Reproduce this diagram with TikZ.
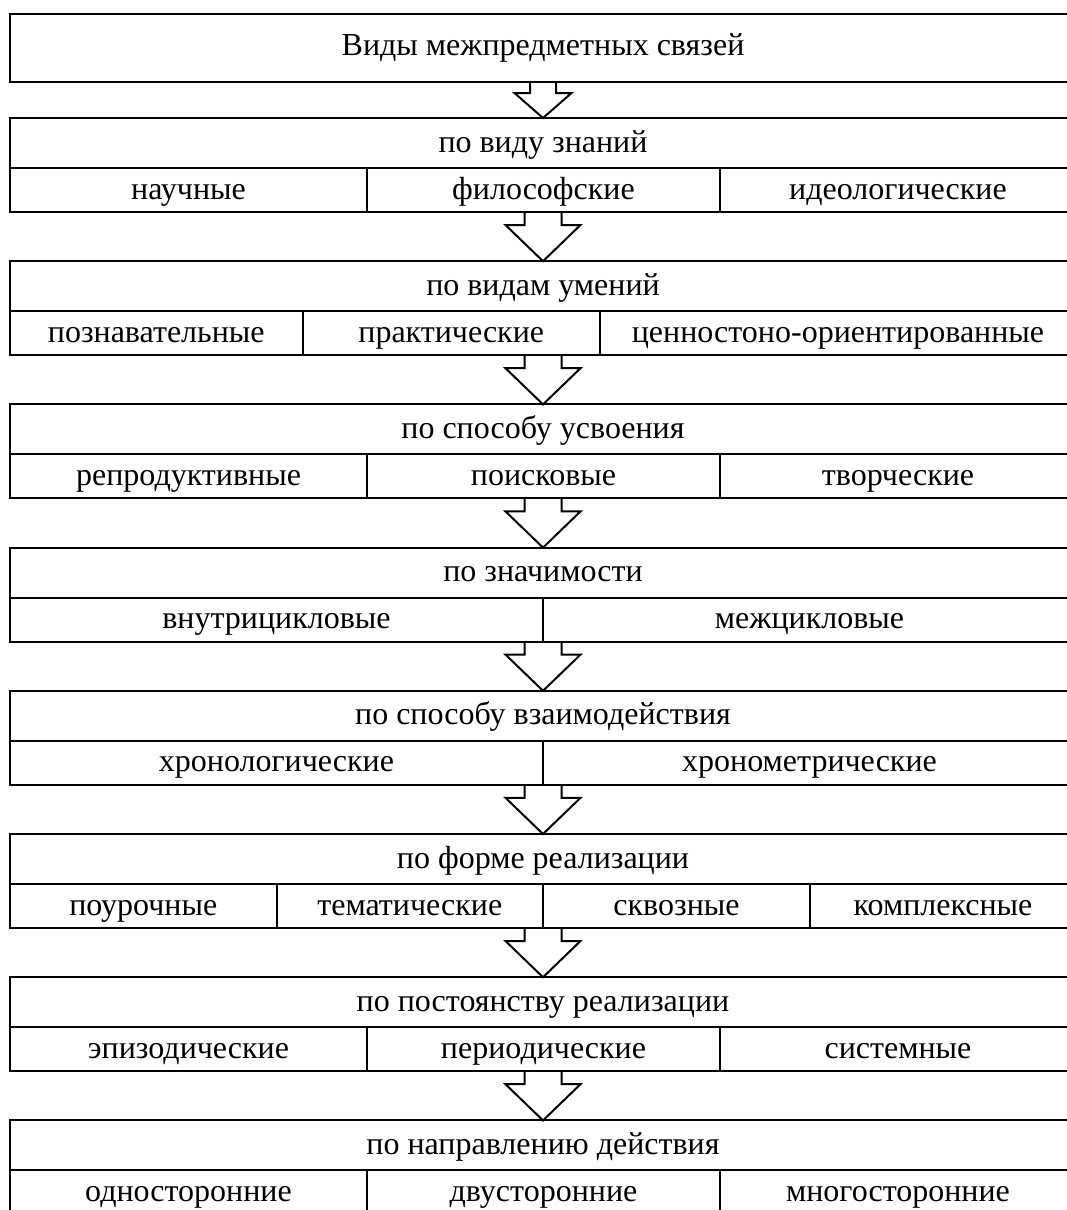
\documentclass[tikz,border=0pt]{standalone}
\usepackage{fontspec}
\setmainfont{Liberation Serif}
\usetikzlibrary{positioning, fit}

% block arrow from the bottom of one group down to the top of the next
\newcommand{\blockarr}[5]{%
  \draw[barrow] ([xshift=-#3pt]#1.south) |- ([xshift=-#4pt, yshift=-#5pt]#1.south)
    -- (#2.north) -- ([xshift=#4pt, yshift=-#5pt]#1.south) -| ([xshift=#3pt]#1.south);}

\begin{document}
\begin{tikzpicture}[x=1pt, y=1pt,
  font=\fontsize{32}{36}\selectfont,
  every node/.style={outer sep=0pt, inner sep=0pt, text height=23pt, text depth=5pt},
  head/.style={draw=black, line width=2.6pt, rectangle, minimum width=1066pt, minimum height=68pt,
    text height=21pt, text depth=7pt},
  ttl/.style={draw=black, line width=2pt, rectangle, minimum width=1066pt, minimum height=50pt},
  cell/.style={draw=black, line width=2pt, rectangle, minimum height=44pt},
  grp/.style={inner sep=0pt, text height=, text depth=},
  barrow/.style={draw=black, line width=2pt, line join=miter}]
\useasboundingbox (0,0) rectangle (1067,-1210);

% --- top box
\node[head] (root) at (543,-48) {Виды межпредметных связей};

% --- by kind of knowledge
\node[ttl, below=36pt of root] (znan) {по виду знаний};
\node[cell, minimum width=357pt, below right=0pt of znan.south west] (znan1) {научные};
\node[cell, minimum width=353pt, right=0pt of znan1] (znan2) {философские};
\node[cell, minimum width=356pt, right=0pt of znan2] (znan3) {идеологические};
\node[grp, fit=(znan)(znan1)(znan3)] (gznan) {};

% --- by kind of skills
\node[ttl, below=49.2pt of gznan] (umen) {по видам умений};
\node[cell, minimum width=292.5pt, below right=0pt of umen.south west] (umen1) {познавательные};
\node[cell, minimum width=297.5pt, right=0pt of umen1] (umen2) {практические};
\node[cell, minimum width=476pt, right=0pt of umen2] (umen3) {ценностоно-ориентированные};
\node[grp, fit=(umen)(umen1)(umen3)] (gumen) {};

% --- by way of learning
\node[ttl, below=49.2pt of gumen] (usv) {по способу усвоения};
\node[cell, minimum width=357pt, below right=0pt of usv.south west] (usv1) {репродуктивные};
\node[cell, minimum width=353pt, right=0pt of usv1] (usv2) {поисковые};
\node[cell, minimum width=356pt, right=0pt of usv2] (usv3) {творческие};
\node[grp, fit=(usv)(usv1)(usv3)] (gusv) {};

% --- by significance
\node[ttl, below=49.2pt of gusv] (znach) {по значимости};
\node[cell, minimum width=533pt, below right=0pt of znach.south west] (znach1) {внутрицикловые};
\node[cell, minimum width=533pt, right=0pt of znach1] (znach2) {межцикловые};
\node[grp, fit=(znach)(znach1)(znach2)] (gznach) {};

% --- by way of interaction
\node[ttl, below=49.2pt of gznach] (vzaim) {по способу взаимодействия};
\node[cell, minimum width=533pt, below right=0pt of vzaim.south west] (vzaim1) {хронологические};
\node[cell, minimum width=533pt, right=0pt of vzaim1] (vzaim2) {хронометрические};
\node[grp, fit=(vzaim)(vzaim1)(vzaim2)] (gvzaim) {};

% --- by form of realisation
\node[ttl, below=49.2pt of gvzaim] (forma) {по форме реализации};
\node[cell, minimum width=266.5pt, below right=0pt of forma.south west] (forma1) {поурочные};
\node[cell, minimum width=266.5pt, right=0pt of forma1] (forma2) {тематические};
\node[cell, minimum width=267pt, right=0pt of forma2] (forma3) {сквозные};
\node[cell, minimum width=266pt, right=0pt of forma3] (forma4) {комплексные};
\node[grp, fit=(forma)(forma1)(forma4)] (gforma) {};

% --- by constancy of realisation
\node[ttl, below=49.2pt of gforma] (post) {по постоянству реализации};
\node[cell, minimum width=357pt, below right=0pt of post.south west] (post1) {эпизодические};
\node[cell, minimum width=353pt, right=0pt of post1] (post2) {периодические};
\node[cell, minimum width=356pt, right=0pt of post2] (post3) {системные};
\node[grp, fit=(post)(post1)(post3)] (gpost) {};

% --- by direction of action
\node[ttl, below=49.2pt of gpost] (napr) {по направлению действия};
\node[cell, minimum width=357pt, below right=0pt of napr.south west] (napr1) {односторонние};
\node[cell, minimum width=353pt, right=0pt of napr1] (napr2) {двусторонние};
\node[cell, minimum width=356pt, right=0pt of napr2] (napr3) {многосторонние};

% --- arrows between the groups
\blockarr{root}{znan}{13}{28.5}{11}
\blockarr{gznan}{umen}{18.5}{37.5}{13}
\blockarr{gumen}{usv}{18.5}{37.5}{13}
\blockarr{gusv}{znach}{18.5}{37.5}{13}
\blockarr{gznach}{vzaim}{18.5}{37.5}{13}
\blockarr{gvzaim}{forma}{18.5}{37.5}{13}
\blockarr{gforma}{post}{18.5}{37.5}{13}
\blockarr{gpost}{napr}{18.5}{37.5}{13}
\end{tikzpicture}
\end{document}
